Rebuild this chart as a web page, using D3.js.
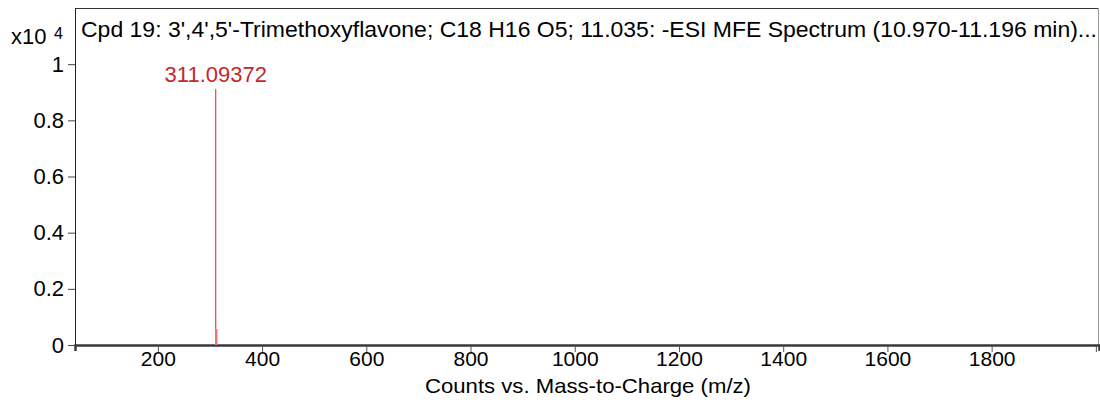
<!DOCTYPE html>
<html>
<head>
<meta charset="utf-8">
<script src="https://cdn.jsdelivr.net/npm/d3@7/dist/d3.min.js"></script>
<style>
  body { margin: 0; background: #fff; }
  svg text { font-family: Arial, "Liberation Sans", sans-serif; fill: #000; }
</style>
</head>
<body>
<div id="chart"></div>
<script>
// peaks (counts in units of x10^4)
var mzValues = [311.09372, 312.0971];
var counts = [0.911, 0.057];
var peakLabels = ["311.09372", ""];
var peakColors = ["#c8262c", "#e67a7a"];
var peakWidths = [1, 2.5];

var xTicks = [200, 400, 600, 800, 1000, 1200, 1400, 1600, 1800, 2000];
var xTickLabels = ["200", "400", "600", "800", "1000", "1200", "1400", "1600", "1800", ""];
var yTicks = [0, 0.2, 0.4, 0.6, 0.8, 1];
var yTickLabels = ["0", "0.2", "0.4", "0.6", "0.8", "1"];

var title = "Cpd 19: 3',4',5'-Trimethoxyflavone; C18 H16 O5; 11.035: -ESI MFE Spectrum (10.970-11.196 min)...";
var xTitle = "Counts vs. Mass-to-Charge (m/z)";

var W = 1100, H = 404;
var margin = {top: 8, right: 1, bottom: 59, left: 75};
var width = W - margin.left - margin.right;
var height = H - margin.top - margin.bottom;
var fs = "22px";

var x = d3.scaleLinear().domain([41, 2006]).range([0, width]);
var y = d3.scaleLinear().domain([0, 1.2]).range([height, 0]);

var svg = d3.select("#chart").append("svg")
    .attr("width", W)
    .attr("height", H);

var g = svg.append("g")
    .attr("transform", "translate(" + margin.left + "," + margin.top + ")");

// frame
g.append("line").attr("x1", 0).attr("x2", width).attr("y1", 0.5).attr("y2", 0.5)
    .attr("stroke", "#333").attr("stroke-width", 1);
g.append("line").attr("x1", width - 0.5).attr("x2", width - 0.5).attr("y1", 0).attr("y2", height)
    .attr("stroke", "#999").attr("stroke-width", 1);

// x axis
var xAxis = g.append("g")
    .attr("transform", "translate(0," + height + ")")
    .call(d3.axisBottom(x).tickValues(xTicks)
      .tickFormat(function(d, i) { return xTickLabels[i]; })
      .tickSize(6).tickPadding(0));
xAxis.select(".domain").attr("stroke", "#3a3a3a").attr("stroke-width", 2.5);
xAxis.selectAll(".tick line").attr("stroke", "#555").attr("transform", "translate(0,1)");
xAxis.selectAll(".tick text").attr("font-size", "21px").attr("font-family", null).attr("fill", "#000");

// y axis
var yAxis = g.append("g")
    .call(d3.axisLeft(y).tickValues(yTicks)
      .tickFormat(function(d, i) { return yTickLabels[i]; })
      .tickSize(7).tickPadding(4));
yAxis.select(".domain").attr("stroke", "#222").attr("stroke-width", 1)
    .attr("d", "M0.5," + height + "V0");
yAxis.selectAll(".tick line").attr("stroke", "#444");
yAxis.selectAll(".tick text").attr("font-size", fs).attr("font-family", null).attr("fill", "#000");

// peaks
g.selectAll(".peak")
  .data(mzValues)
  .enter().append("line")
    .attr("class", "peak")
    .attr("x1", function(d) { return x(d); })
    .attr("x2", function(d) { return x(d); })
    .attr("y1", y(0))
    .attr("y2", function(d, i) { return y(counts[i]); })
    .attr("stroke", function(d, i) { return peakColors[i]; })
    .attr("stroke-width", function(d, i) { return peakWidths[i]; });

g.selectAll(".plabel")
  .data(mzValues)
  .enter().append("text")
    .attr("class", "plabel")
    .attr("x", function(d) { return x(d); })
    .attr("y", function(d, i) { return y(counts[i]) - 7; })
    .attr("text-anchor", "middle")
    .attr("font-size", fs)
    .style("fill", "#c8262c")
    .text(function(d, i) { return peakLabels[i]; });

// title
g.append("text")
    .attr("x", 6)
    .attr("y", 29)
    .attr("font-size", fs)
    .attr("textLength", 1016)
    .attr("lengthAdjust", "spacingAndGlyphs")
    .text(title);

// exponent
svg.append("text").attr("x", 11).attr("y", 44).attr("font-size", fs).text("x10");
svg.append("text").attr("x", 54).attr("y", 39).attr("font-size", "16px").text("4");

// x title
svg.append("text")
    .attr("x", 588)
    .attr("y", 393)
    .attr("text-anchor", "middle")
    .attr("font-size", "21px")
    .attr("textLength", 326)
    .attr("lengthAdjust", "spacingAndGlyphs")
    .text(xTitle);
</script>
</body>
</html>
